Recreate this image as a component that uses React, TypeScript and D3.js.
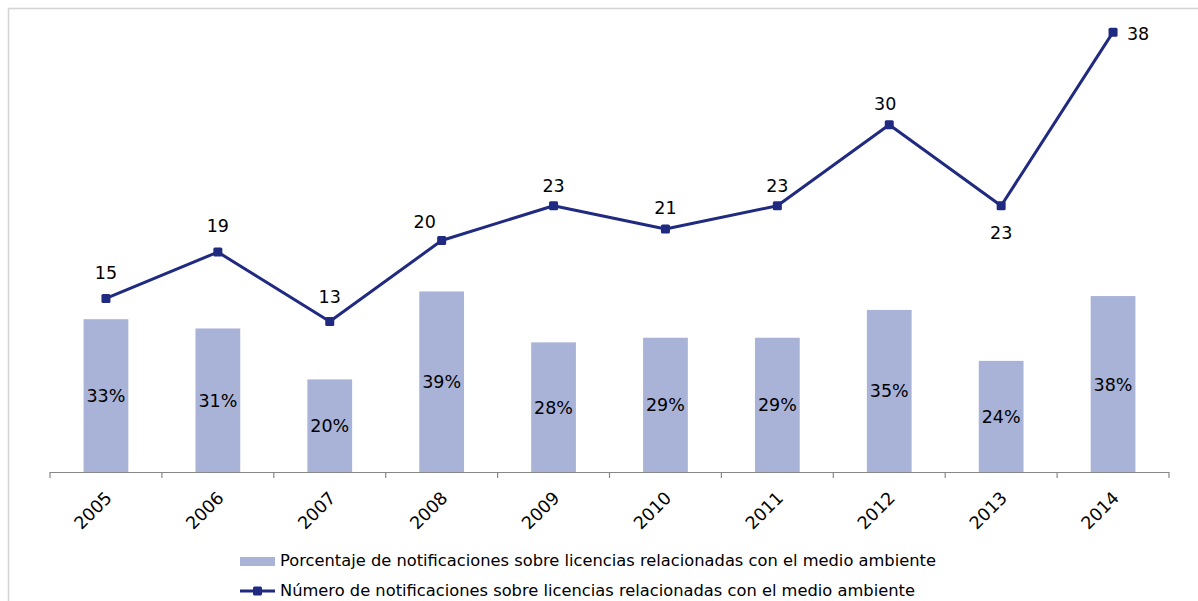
import React from "react";
import * as d3 from "d3";

const years = ["2005", "2006", "2007", "2008", "2009", "2010", "2011", "2012", "2013", "2014"];
const percentValues = [33, 31, 20, 39, 28, 29, 29, 35, 24, 38];
const countValues = [15, 19, 13, 20, 23, 21, 23, 30, 23, 38];
const legendLabels = [
  "Porcentaje de notificaciones sobre licencias relacionadas con el medio ambiente",
  "Número de notificaciones sobre licencias relacionadas con el medio ambiente",
];
// label placement offsets (dx, dy of label centre from the marker), as placed in the original
const labelDx = [0, 0, 0, -17, 0, 0, 0, -4, 0, 25];
const labelDy = [-26, -26, -25, -19, -20, -21, -20, -21, 27, 1];

const W = 1198;
const H = 601;
const BAR_COLOR = "#a9b3d8";
const LINE_COLOR = "#1f2a80";
const FONT = "'DejaVu Sans', Verdana, sans-serif";

export default function App() {
  const x = d3.scaleBand<string>().domain(years).range([50, 1169]).padding(0);
  const yBar = d3.scaleLinear().domain([0, 100]).range([472, 9]);
  const yLine = d3.scaleLinear().domain([0, 40]).range([472, 9]);
  const bw = x.bandwidth();
  const cx = (d: string) => (x(d) as number) + bw / 2;
  const line = d3
    .line<number>()
    .x((_, i) => cx(years[i]))
    .y((v) => yLine(v));
  const ticks = [...years.map((d) => x(d) as number), 1169];

  return (
    <svg
      width={W}
      height={H}
      style={{ position: "absolute", left: 0, top: 0, display: "block" }}
      fontFamily={FONT}
    >
      <rect x={0} y={0} width={W} height={H} fill="#fff" />
      <rect x={8.5} y={8.5} width={W + 20} height={H + 20} fill="none" stroke="#d4d4d4" strokeWidth={1.5} />
      {years.map((d, i) => (
        <rect
          key={"b" + d}
          x={(x(d) as number) + bw * 0.3}
          y={yBar(percentValues[i])}
          width={bw * 0.4}
          height={yBar(0) - yBar(percentValues[i])}
          fill={BAR_COLOR}
        />
      ))}
      {years.map((d, i) => (
        <text
          key={"bl" + d}
          x={cx(d)}
          y={(yBar(percentValues[i]) + yBar(0)) / 2 + 6.5}
          textAnchor="middle"
          fontSize={17.5}
          fill="#000"
        >
          {percentValues[i] + "%"}
        </text>
      ))}
      <line x1={50} x2={1169} y1={472.5} y2={472.5} stroke="#888" strokeWidth={1.2} />
      {ticks.map((t, i) => (
        <line key={"t" + i} x1={t} x2={t} y1={472} y2={478} stroke="#888" strokeWidth={1.2} />
      ))}
      {years.map((d) => (
        <text
          key={"tl" + d}
          transform={`translate(${cx(d) + 7},${499}) rotate(-45)`}
          textAnchor="end"
          fontSize={17.5}
          fill="#000"
        >
          {d}
        </text>
      ))}
      <path d={line(countValues) || ""} fill="none" stroke={LINE_COLOR} strokeWidth={3} strokeLinejoin="round" />
      {years.map((d, i) => (
        <rect
          key={"m" + d}
          x={cx(d) - 4.5}
          y={yLine(countValues[i]) - 4.5}
          width={9}
          height={9}
          rx={1.5}
          fill={LINE_COLOR}
        />
      ))}
      {years.map((d, i) => (
        <text
          key={"ll" + d}
          x={cx(d) + labelDx[i]}
          y={yLine(countValues[i]) + labelDy[i] + 6.4}
          textAnchor="middle"
          fontSize={17.5}
          fill="#000"
        >
          {countValues[i]}
        </text>
      ))}
      <rect x={240} y={557} width={35} height={9} fill={BAR_COLOR} />
      <text x={280} y={561} dominantBaseline="middle" fontSize={16.3} fill="#000">
        {legendLabels[0]}
      </text>
      <line x1={240} x2={275} y1={591} y2={591} stroke={LINE_COLOR} strokeWidth={3} />
      <rect x={253} y={586.5} width={9} height={9} rx={1.5} fill={LINE_COLOR} />
      <text x={280} y={591} dominantBaseline="middle" fontSize={16.3} fill="#000">
        {legendLabels[1]}
      </text>
    </svg>
  );
}
